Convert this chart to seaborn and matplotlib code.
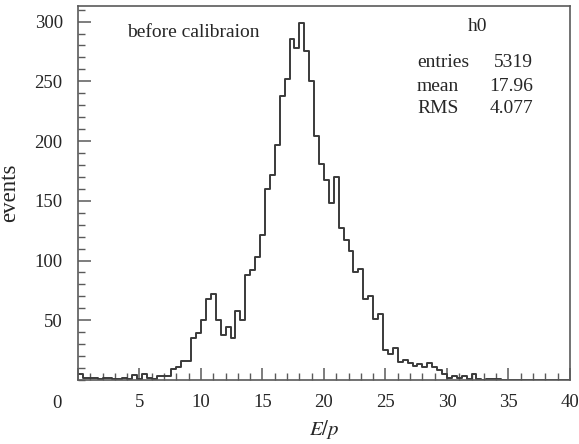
import numpy as np
import pandas as pd
import seaborn as sns
import matplotlib
matplotlib.use("Agg")
import matplotlib.pyplot as plt
from matplotlib.ticker import MultipleLocator

# ---- data ----
bin_width = 0.4
x_min, x_max = 0.0, 40.0
counts = [5, 2, 2, 2, 1, 2, 2, 1, 1, 2,
          1, 4, 1, 5, 2, 1, 3, 3, 3, 9,
          11, 16, 16, 35, 39, 50, 68, 72, 50, 38,
          44, 35, 58, 50, 88, 92, 103, 121, 160, 172,
          197, 238, 252, 285, 278, 299, 275, 250, 204, 181,
          167, 148, 170, 127, 117, 108, 90, 93, 68, 70,
          51, 55, 25, 22, 27, 15, 17, 14, 12, 13,
          11, 14, 11, 8, 5, 2, 3, 2, 3, 1,
          5, 1, 0, 1, 1, 1, 0, 0, 0, 0,
          0, 0, 0, 0, 0, 0, 0, 0, 0, 0]
x_ticks = [0, 5, 10, 15, 20, 25, 30, 35, 40]
y_ticks = [50, 100, 150, 200, 250, 300]
hist_name = "h0"
stat_names = ["entries", "mean", "RMS"]
stat_values = ["5319", "17.96", "4.077"]
title_text = "before calibraion"

edges = np.arange(len(counts) + 1) * bin_width + x_min
centers = edges[:-1] + bin_width / 2
df = pd.DataFrame({"E/p": centers, "events": counts})

sns.set_style("ticks")
plt.rcParams["font.family"] = ["Liberation Serif", "DejaVu Serif"]
plt.rcParams["mathtext.fontset"] = "stix"

fig = plt.figure(figsize=(5.79, 4.44), dpi=100)
ax = fig.add_axes([0.1347, 0.1441, 0.8497, 0.8423])

sns.histplot(data=df, x="E/p", weights="events", binwidth=bin_width,
             binrange=(x_min, x_max),
             element="step", fill=False, color="#3a3a3a", linewidth=1.4, ax=ax)

ax.set_xlim(x_min, x_max)
ax.set_ylim(0, 313)

for s in ax.spines.values():
    s.set_visible(True)
    s.set_color("#5a5a5a")
    s.set_linewidth(1.2)

ax.xaxis.set_major_locator(MultipleLocator(5))
ax.xaxis.set_minor_locator(MultipleLocator(1))
ax.set_yticks(y_ticks)
ax.yaxis.set_minor_locator(MultipleLocator(10))
ax.tick_params(axis="both", which="both", direction="in", color="#5a5a5a",
               labelsize=13.5, top=False, right=False)
ax.tick_params(axis="x", which="major", length=9, width=1.1, pad=10)
ax.tick_params(axis="x", which="minor", length=5, width=1.0)
ax.tick_params(axis="y", which="major", length=9, width=1.1, pad=11)
ax.tick_params(axis="y", which="minor", length=5, width=1.0)

ax.set_xticks(x_ticks)
ax.set_xticklabels([""] + [str(t) for t in x_ticks[1:]])
ax.text(-0.043, -0.062, str(x_ticks[0]), transform=ax.transAxes,
        ha="center", va="center", fontsize=13.5)

ax.set_xlabel("$E/p$", fontsize=15, labelpad=5)
ax.set_ylabel("events", fontsize=16.5)
ax.yaxis.set_label_coords(-0.118, 0.5)

ax.text(0.099, 0.930, title_text, transform=ax.transAxes, fontsize=14,
        ha="left", va="center")
ax.text(0.792, 0.944, hist_name, transform=ax.transAxes, fontsize=14,
        ha="left", va="center")
ys = [0.850, 0.786, 0.727]
for nm, val, yy in zip(stat_names, stat_values, ys):
    ax.text(0.689, yy, nm, transform=ax.transAxes, fontsize=14,
            ha="left", va="center")
    ax.text(0.925, yy, val, transform=ax.transAxes, fontsize=14,
            ha="right", va="center")

fig.savefig("out.png", dpi=100)
